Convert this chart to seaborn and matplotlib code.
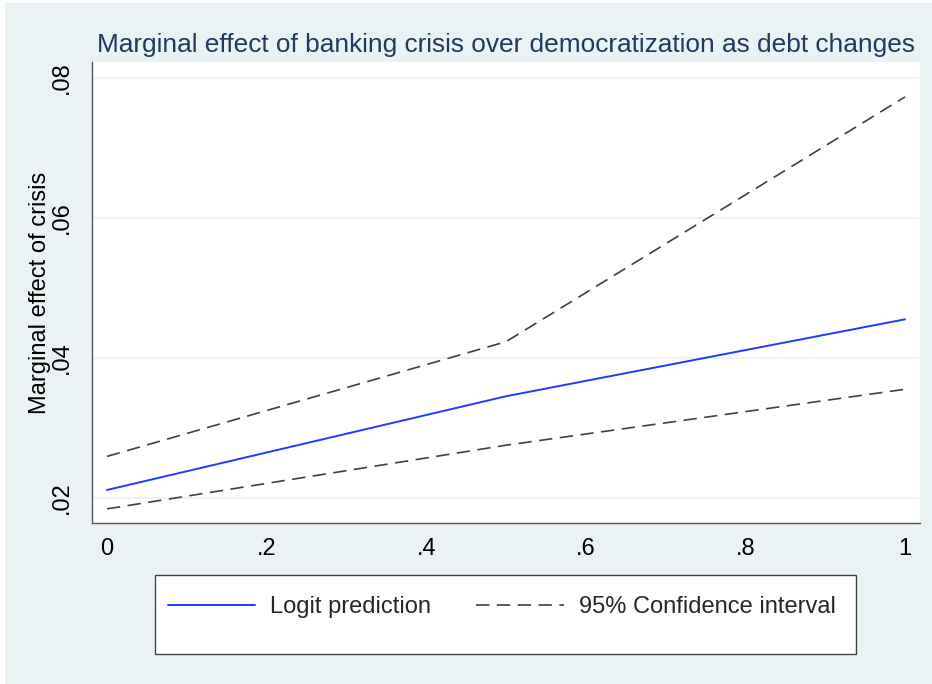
import matplotlib
matplotlib.use("Agg")
import matplotlib.pyplot as plt
from matplotlib.patches import Rectangle
import seaborn as sns
import pandas as pd

# ---- data ----
debt = [0.0, 0.5, 1.0]
logit_prediction = [0.0211, 0.0345, 0.0455]
ci_upper = [0.0259, 0.0423, 0.0773]
ci_lower = [0.0184, 0.0275, 0.0355]
x_ticks = [0, 0.2, 0.4, 0.6, 0.8, 1.0]
x_tick_labels = ["0", ".2", ".4", ".6", ".8", "1"]
y_ticks = [0.02, 0.04, 0.06, 0.08]
y_tick_labels = [".02", ".04", ".06", ".08"]

title = "Marginal effect of banking crisis over democratization as debt changes"
ylabel = "Marginal effect of crisis"

BG = "#EAF2F3"
sns.set_style("white")
plt.rcParams["font.family"] = ["Liberation Sans", "DejaVu Sans"]

W, H = 932, 684
fig = plt.figure(figsize=(W / 100, H / 100), dpi=100, facecolor="white")
fig.patches.append(Rectangle((5 / W, 0), 1, 1 - 3 / H, transform=fig.transFigure,
                             facecolor=BG, edgecolor="none", zorder=-10))

ax = fig.add_axes([92 / W, 1 - 523 / H, (920 - 92) / W, (523 - 62) / H])
ax.set_facecolor("white")

df = pd.DataFrame({"debt": debt, "pred": logit_prediction,
                   "upper": ci_upper, "lower": ci_lower})

DASH = (0, (8, 4.5))
sns.lineplot(data=df, x="debt", y="pred", ax=ax, color="#1F3BFF", lw=1.4,
             label="Logit prediction")
sns.lineplot(data=df, x="debt", y="upper", ax=ax, color="#404040", lw=1.2,
             linestyle=DASH, label="95% Confidence interval")
sns.lineplot(data=df, x="debt", y="lower", ax=ax, color="#404040", lw=1.2,
             linestyle=DASH, label="_nolegend_")

ax.set_xlim(-0.0188, 1.0188)
ax.set_ylim(0.01638, 0.08229)
ax.set_xticks(x_ticks)
ax.set_xticklabels(x_tick_labels)
ax.set_yticks(y_ticks)
ax.set_yticklabels(y_tick_labels, rotation=90, va="center")
ax.tick_params(axis="both", which="major", length=7, width=1, color="#555555",
               labelsize=17, labelcolor="black", direction="out")
ax.tick_params(axis="x", pad=4)
ax.tick_params(axis="y", pad=7)
ax.set_xlabel("")
ax.set_ylabel(ylabel, fontsize=17, color="black", labelpad=0)
ax.grid(axis="y", color=BG, lw=1.2)
ax.grid(axis="x", visible=False)
for s in ["top", "right"]:
    ax.spines[s].set_visible(False)
for s in ["left", "bottom"]:
    ax.spines[s].set_color("#555555")
    ax.spines[s].set_linewidth(1.0)
ax.set_title(title, fontsize=18.9, color="#1E3A5C", pad=7)

handles, labels = ax.get_legend_handles_labels()
ax.get_legend().remove()
fig.patches.append(Rectangle((155 / W, 1 - 654 / H), (856 - 155) / W, (654 - 575) / H,
                             transform=fig.transFigure, facecolor="white",
                             edgecolor="#444444", lw=1.0, zorder=-5))
fig.legend(handles, labels, loc="center left", bbox_to_anchor=(168 / W, 1 - 607 / H),
           ncol=2, frameon=False, borderpad=0, borderaxespad=0, fontsize=17,
           handlelength=3.7, handletextpad=0.64, columnspacing=1.9)

fig.savefig("out.png", dpi=100, facecolor=fig.get_facecolor())
